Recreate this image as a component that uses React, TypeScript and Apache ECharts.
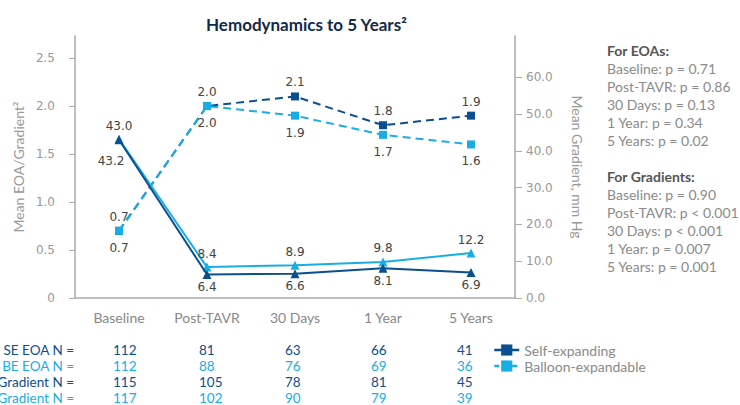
import React, { useEffect, useRef } from "react";
import * as echarts from "echarts";

const categories = ["Baseline", "Post-TAVR", "30 Days", "1 Year", "5 Years"];
const seEoa = [0.7, 2.0, 2.1, 1.8, 1.9];
const beEoa = [0.7, 2.0, 1.9, 1.7, 1.6];
const seGradient = [43.0, 6.4, 6.6, 8.1, 6.9];
const beGradient = [43.2, 8.4, 8.9, 9.8, 12.2];
const eoaTicks = [0, 0.5, 1, 1.5, 2, 2.5];
const gradientTicks = [0, 10, 20, 30, 40, 50, 60];

const seEoaN = [112, 81, 63, 66, 41];
const beEoaN = [112, 88, 76, 69, 36];
const seGradientN = [115, 105, 78, 81, 45];
const beGradientN = [117, 102, 90, 79, 39];
const nLabels = ["SE EOA N =", "BE EOA N =", "SE Gradient N =", "BE Gradient N ="];

const eoaP = ["Baseline: p = 0.71", "Post-TAVR: p = 0.86", "30 Days: p = 0.13", "1 Year: p = 0.34", "5 Years: p = 0.02"];
const gradientP = ["Baseline: p = 0.90", "Post-TAVR: p < 0.001", "30 Days: p < 0.001", "1 Year: p = 0.007", "5 Years: p = 0.001"];

const DARK = "#0b4f8e";
const LIGHT = "#19ade5";
const SANS = "Lato";
const NUM = "DejaVu Sans";

export default function App() {
  const ref = useRef<HTMLDivElement>(null);
  useEffect(() => {
    if (!ref.current) return;
    const chart = echarts.init(ref.current, undefined, { renderer: "svg" });
    const fmt1 = (p: any) => Number(p.value).toFixed(1);
    const labelBase = { show: true, fontFamily: NUM, fontSize: 12, color: "#444", formatter: fmt1 };

    const graphics: any[] = [];
    const nRows = [seEoaN, beEoaN, seGradientN, beGradientN];
    const rowColors = [DARK, LIGHT, DARK, LIGHT];
    nRows.forEach((row, r) => {
      const y = 350 + r * 16;
      graphics.push({
        type: "text", x: 74, y, style: { text: nLabels[r], fill: rowColors[r], font: `13.5px ${SANS}`, textAlign: "right", textVerticalAlign: "middle" },
      });
      row.forEach((v, i) => {
        graphics.push({
          type: "text", x: 113 + i * 86, y, style: { text: String(v), fill: rowColors[r], font: `13.5px ${SANS}`, textAlign: "left", textVerticalAlign: "middle" },
        });
      });
    });
    graphics.push({ type: "text", x: 607, y: 50, style: { text: "For EOAs:", fill: "#555", font: `bold 14px ${SANS}`, textVerticalAlign: "middle" } });
    eoaP.forEach((t, i) => graphics.push({ type: "text", x: 607, y: 68 + i * 18, style: { text: t, fill: "#8a8a8a", font: `14px ${SANS}`, textVerticalAlign: "middle" } }));
    graphics.push({ type: "text", x: 607, y: 176, style: { text: "For Gradients:", fill: "#555", font: `bold 14px ${SANS}`, textVerticalAlign: "middle" } });
    gradientP.forEach((t, i) => graphics.push({ type: "text", x: 607, y: 194 + i * 18, style: { text: t, fill: "#8a8a8a", font: `14px ${SANS}`, textVerticalAlign: "middle" } }));

    chart.setOption({
      animation: false,
      title: {
        text: "Hemodynamics to 5 Years²",
        left: 201,
        top: 11,
        textStyle: { fontFamily: SANS, fontWeight: "bold", fontSize: 17, color: "#13294b" },
      },
      legend: {
        orient: "vertical",
        left: 488,
        top: 338,
        itemWidth: 25,
        itemHeight: 14,
        itemGap: 2,
        textStyle: { fontFamily: SANS, fontSize: 14, color: "#8a8a8a" },
        data: [
          { name: "Self-expanding", lineStyle: { type: "solid", width: 2.5 } },
          { name: "Balloon-expandable", lineStyle: { type: [5, 4], width: 2.5 } },
        ],
      },
      grid: { left: 75, right: 225, top: 36, bottom: 107 },
      xAxis: {
        type: "category",
        data: categories,
        boundaryGap: true,
        axisLine: { lineStyle: { color: "#aaa", width: 1.5 } },
        axisTick: { length: 8, lineStyle: { color: "#aaa", width: 1.5 } },
        axisLabel: { fontFamily: SANS, fontSize: 14, color: "#888", margin: 12 },
      },
      yAxis: [
        {
          type: "value",
          min: 0,
          max: 2.73,
          position: "left",
          name: "Mean EOA/Gradient²",
          nameLocation: "middle",
          nameGap: 50,
          nameRotate: 90,
          nameTextStyle: { fontFamily: SANS, fontSize: 14, color: "#999" },
          splitLine: { show: false },
          axisLine: { show: true, lineStyle: { color: "#aaa", width: 1.5 } },
          axisTick: { show: true, length: 6, customValues: eoaTicks, lineStyle: { color: "#aaa" } },
          axisLabel: {
            customValues: eoaTicks,
            margin: 20,
            fontFamily: NUM,
            fontSize: 12,
            color: "#999",
            formatter: (v: number) => (v === 0 ? "0" : v.toFixed(1)),
          },
        },
        {
          type: "value",
          min: 0,
          max: 71.2,
          position: "right",
          name: "Mean Gradient, mm Hg",
          nameLocation: "middle",
          nameGap: 55,
          nameRotate: -90,
          nameTextStyle: { fontFamily: SANS, fontSize: 14, color: "#999" },
          splitLine: { show: false },
          axisLine: { show: true, lineStyle: { color: "#aaa", width: 1.5 } },
          axisTick: { show: true, length: 7, customValues: gradientTicks, lineStyle: { color: "#aaa" } },
          axisLabel: {
            customValues: gradientTicks,
            margin: 11,
            fontFamily: NUM,
            fontSize: 12,
            color: "#999",
            formatter: (v: number) => v.toFixed(1),
          },
        },
      ],
      series: [
        {
          name: "Self-expanding",
          type: "line",
          yAxisIndex: 0,
          data: seEoa,
          symbol: "rect",
          symbolSize: 8,
          itemStyle: { color: DARK },
          lineStyle: { color: DARK, width: 2, type: [8, 5] },
          label: { ...labelBase, position: "top", distance: 4 },
          z: 2,
        },
        {
          name: "Balloon-expandable",
          type: "line",
          yAxisIndex: 0,
          data: beEoa,
          symbol: "rect",
          symbolSize: 8,
          itemStyle: { color: LIGHT },
          lineStyle: { color: LIGHT, width: 2, type: [8, 5] },
          label: { ...labelBase, position: "bottom", distance: 7 },
          z: 3,
        },
        {
          name: "Balloon-expandable",
          type: "line",
          yAxisIndex: 1,
          data: beGradient.map((v, i) =>
            i === 0 ? { value: v, label: { position: "bottom", distance: 5, offset: [-8, 6] } } : v
          ),
          symbol: "triangle",
          symbolSize: 9,
          itemStyle: { color: LIGHT },
          lineStyle: { color: LIGHT, width: 2 },
          label: { ...labelBase, position: "top", distance: 3 },
          z: 4,
        },
        {
          name: "Self-expanding",
          type: "line",
          yAxisIndex: 1,
          data: seGradient.map((v, i) => (i === 0 ? { value: v, label: { position: "top", distance: 3 } } : v)),
          symbol: "triangle",
          symbolSize: 9,
          itemStyle: { color: DARK },
          lineStyle: { color: DARK, width: 2 },
          label: { ...labelBase, position: "bottom", distance: 2 },
          z: 5,
        },
      ],
      graphic: graphics,
    });
    return () => chart.dispose();
  }, []);
  return <div ref={ref} style={{ width: 740, height: 405, position: "absolute", left: 0, top: 0 }} />;
}
